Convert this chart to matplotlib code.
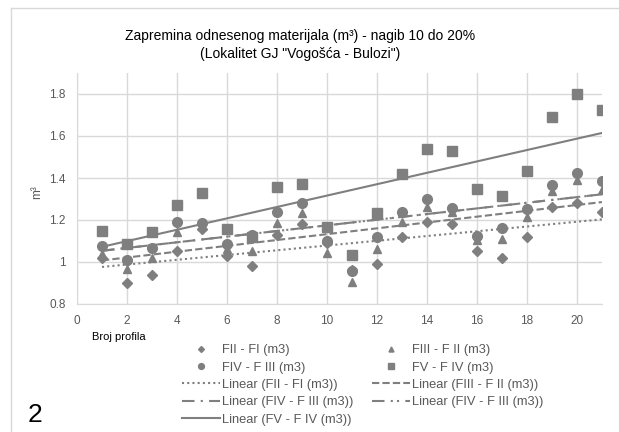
import numpy as np
import matplotlib
matplotlib.use('Agg')
import matplotlib.pyplot as plt
from matplotlib.lines import Line2D

plt.rcParams['font.family'] = ['Liberation Sans', 'DejaVu Sans']

# podaci ocitani sa grafika
profili = list(range(1, 22))
f2_f1 = [1.02, 0.90, 0.94, 1.05, 1.155, 1.03, 0.98, 1.13, 1.18, 1.09, 0.96,
         0.99, 1.12, 1.19, 1.18, 1.05, 1.02, 1.12, 1.26, 1.28, 1.24]
f3_f2 = [1.04, 0.965, 1.02, 1.145, 1.17, 1.06, 1.05, 1.185, 1.235, 1.045, 0.905,
         1.06, 1.19, 1.26, 1.24, 1.105, 1.11, 1.215, 1.34, 1.39, 1.345]
f4_f3 = [1.075, 1.01, 1.065, 1.19, 1.186, 1.085, 1.13, 1.24, 1.28, 1.10, 0.957,
         1.12, 1.24, 1.30, 1.256, 1.124, 1.16, 1.254, 1.367, 1.422, 1.387]
f5_f4 = [1.15, 1.085, 1.145, 1.27, 1.33, 1.155, 1.12, 1.357, 1.373, 1.165, 1.033,
         1.232, 1.418, 1.54, 1.53, 1.348, 1.316, 1.432, 1.69, 1.80, 1.722]

siva = '#7f7f7f'
tekst = '#595959'

fig = plt.figure(figsize=(6.19, 4.32), dpi=100)
ax = fig.add_axes([77/619, 1-304/432, 525/619, 231/432])

x = np.array(profili)

def trend(y):
    k, n = np.polyfit(x, y, 1)
    return k*x + n

s1, = ax.plot(x, f2_f1, 'D', color=siva, ms=5, ls='none')
s2, = ax.plot(x, f3_f2, '^', color=siva, ms=6, ls='none')
s3, = ax.plot(x, f4_f3, 'o', color=siva, ms=7, ls='none')
s4, = ax.plot(x, f5_f4, 's', color=siva, ms=6.5, ls='none')

l1, = ax.plot(x, trend(f2_f1), color=siva, lw=1.5, ls=(0, (1, 1.5)))
l2, = ax.plot(x, trend(f3_f2), color=siva, lw=1.5, ls=(0, (3.5, 1.5)))
l3, = ax.plot(x, trend(f4_f3), color=siva, lw=1.5, ls=(0, (6, 3, 1, 3)))
l4, = ax.plot(x, trend(f4_f3), color=siva, lw=1.5, ls=(0, (6, 3, 1, 2, 1, 3)))
l5, = ax.plot(x, trend(f5_f4), color=siva, lw=1.5, ls='-')

ax.set_xlim(0, 21)
ax.set_ylim(0.8, 1.9)
ax.set_xticks(range(0, 21, 2))
ax.set_yticks([0.8, 1.0, 1.2, 1.4, 1.6, 1.8])
ax.set_yticklabels(['0.8', '1', '1.2', '1.4', '1.6', '1.8'])
ax.grid(True, color='#d9d9d9', lw=1)
ax.set_axisbelow(True)
for s in ['top', 'right']:
    ax.spines[s].set_visible(False)
for s in ['left', 'bottom']:
    ax.spines[s].set_color('#d9d9d9')
ax.tick_params(length=0, labelsize=8.5, colors=tekst, pad=8)

fig.text(300/619, 1-36/432, 'Zapremina odnesenog materijala (m³) - nagib 10 do 20%',
         ha='center', va='center', fontsize=10)
fig.text(300/619, 1-54/432, '(Lokalitet GJ "Vogošća - Bulozi")',
         ha='center', va='center', fontsize=10)
fig.text(37/619, 1-192/432, 'm³', rotation=90, ha='center', va='center',
         fontsize=8.5, color=tekst)
fig.text(92/619, 1-337/432, 'Broj profila', ha='left', va='center', fontsize=8)
fig.text(28/619, 1-415/432, '2', ha='left', va='center', fontsize=19)

# okvir grafika
fig.add_artist(Line2D([11/619, 1], [1-8/432, 1-8/432], color='#d9d9d9', lw=1))
fig.add_artist(Line2D([11/619, 11/619], [0, 1-8/432], color='#d9d9d9', lw=1))

ruke = [s1, s3, l1, l3, l5, s2, s4, l2, l4]
imena = ['FII - FI (m3)', 'FIV - F III (m3)', 'Linear (FII - FI (m3))',
         'Linear (FIV - F III (m3))', 'Linear (FV - F IV (m3))',
         'FIII - F II (m3)', 'FV - F IV (m3)', 'Linear (FIII - F II (m3))',
         'Linear (FIV - F III (m3))']
leg = fig.legend(ruke, imena, ncol=2, loc='upper left',
                 bbox_to_anchor=(182/619, 1-344/432), frameon=False,
                 fontsize=9.3, handlelength=2.95, handletextpad=0.15,
                 labelspacing=0.42, columnspacing=1.4, borderpad=0,
                 borderaxespad=0, markerscale=0.6)
for t in leg.get_texts():
    t.set_color(tekst)

fig.savefig('out.png', dpi=100, facecolor='white')
